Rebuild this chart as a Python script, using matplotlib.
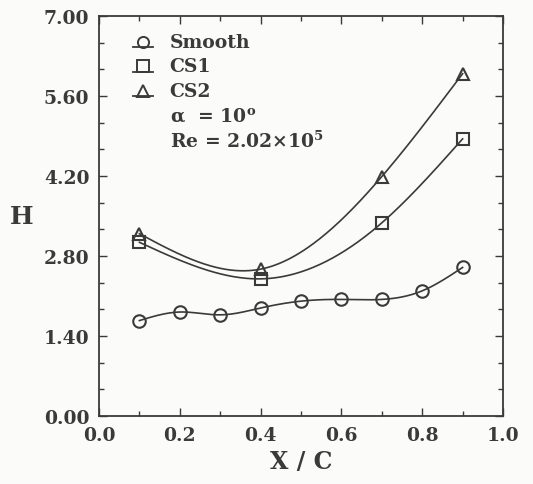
import numpy as np
import matplotlib.pyplot as plt
from matplotlib.ticker import MultipleLocator

# values
x_smooth = [0.1, 0.2, 0.3, 0.4, 0.5, 0.6, 0.7, 0.8, 0.9]
h_smooth = [1.67, 1.82, 1.77, 1.89, 2.01, 2.04, 2.04, 2.19, 2.60]

x_cs = [0.1, 0.4, 0.7, 0.9]
h_cs1 = [3.04, 2.40, 3.38, 4.85]
h_cs2 = [3.19, 2.57, 4.19, 5.99]

series_labels = ['Smooth', 'CS1', 'CS2']
ink = '#3a3a3a'
paper = '#fbfbf9'


def natural_spline(x, y, n=200):
    # natural cubic spline, only used to draw the connecting curve
    x = np.asarray(x, float)
    y = np.asarray(y, float)
    k = len(x)
    h = np.diff(x)
    A = np.zeros((k, k))
    b = np.zeros(k)
    A[0, 0] = A[-1, -1] = 1
    for i in range(1, k - 1):
        A[i, i - 1] = h[i - 1]
        A[i, i] = 2 * (h[i - 1] + h[i])
        A[i, i + 1] = h[i]
        b[i] = 6 * ((y[i + 1] - y[i]) / h[i] - (y[i] - y[i - 1]) / h[i - 1])
    m = np.linalg.solve(A, b)
    xs = np.linspace(x[0], x[-1], n)
    j = np.clip(np.searchsorted(x, xs) - 1, 0, k - 2)
    t0 = x[j + 1] - xs
    t1 = xs - x[j]
    ys = (m[j] * t0**3 + m[j + 1] * t1**3) / (6 * h[j]) \
        + (y[j] / h[j] - m[j] * h[j] / 6) * t0 \
        + (y[j + 1] / h[j] - m[j + 1] * h[j] / 6) * t1
    return xs, ys


plt.rcParams['font.family'] = ['DejaVu Serif']
plt.rcParams['font.weight'] = 'bold'
plt.rcParams['mathtext.fontset'] = 'custom'
plt.rcParams['mathtext.rm'] = 'DejaVu Serif:bold'
plt.rcParams['mathtext.bf'] = 'DejaVu Serif:bold'

fig = plt.figure(figsize=(5.33, 4.85), dpi=100, facecolor=paper)
ax = fig.add_axes([99 / 533, 68 / 485, 404 / 533, 400 / 485])
ax.set_facecolor(paper)

mk = dict(markersize=9, markerfacecolor='none', markeredgecolor=ink, markeredgewidth=1.5)
markers = ['o', 's', '^']

for xs_, ys_, m in [(x_smooth, h_smooth, markers[0]),
                    (x_cs, h_cs1, markers[1]),
                    (x_cs, h_cs2, markers[2])]:
    sx, sy = natural_spline(xs_, ys_)
    ax.plot(sx, sy, color=ink, lw=1.2)
    ax.plot(xs_, ys_, linestyle='none', marker=m, **mk)

ax.set_xlim(0, 1.0)
ax.set_ylim(0, 7.0)
ax.xaxis.set_major_locator(MultipleLocator(0.2))
ax.xaxis.set_minor_locator(MultipleLocator(0.1))
ax.yaxis.set_major_locator(MultipleLocator(1.4))
ax.yaxis.set_minor_locator(MultipleLocator(1.4 / 3))
ax.xaxis.set_major_formatter(lambda v, p: f'{v:.1f}')
ax.yaxis.set_major_formatter(lambda v, p: f'{v:.2f}')
ax.tick_params(which='both', direction='in', top=True, right=True, colors=ink,
               labelsize=13.5, width=1.0)
ax.tick_params(which='major', length=6)
ax.tick_params(which='minor', length=3.5)
ax.tick_params(axis='x', pad=7)
ax.tick_params(axis='y', pad=7)
for s in ax.spines.values():
    s.set_color(ink)
    s.set_linewidth(1.3)

ax.set_xlabel('X / C', fontsize=17, fontweight='bold', color=ink, labelpad=4)
ax.set_ylabel('H', fontsize=18, fontweight='bold', color=ink, rotation=0,
              labelpad=16, va='center')

# hand-built key: marker sitting on a short line, like the original plot
row_y = [0.936, 0.874, 0.812]
for yy, m, lab in zip(row_y, markers, series_labels):
    ax.plot([0.085, 0.133], [yy - 0.013, yy - 0.013], transform=ax.transAxes,
            color=ink, lw=1.3)
    ax.plot([0.108], [yy], transform=ax.transAxes, marker=m, linestyle='none',
            markersize=8, markerfacecolor='none', markeredgecolor=ink,
            markeredgewidth=1.4)
    ax.text(0.175, yy, lab, transform=ax.transAxes, fontsize=13.5,
            color=ink, va='center')
ax.text(0.175, 0.75, 'α  = 10$^{\\mathrm{o}}$', transform=ax.transAxes,
        fontsize=13.5, color=ink, va='center')
ax.text(0.175, 0.69, 'Re = 2.02×10$^{5}$', transform=ax.transAxes,
        fontsize=13.5, color=ink, va='center')

fig.savefig('out.png', dpi=100, facecolor=fig.get_facecolor())
